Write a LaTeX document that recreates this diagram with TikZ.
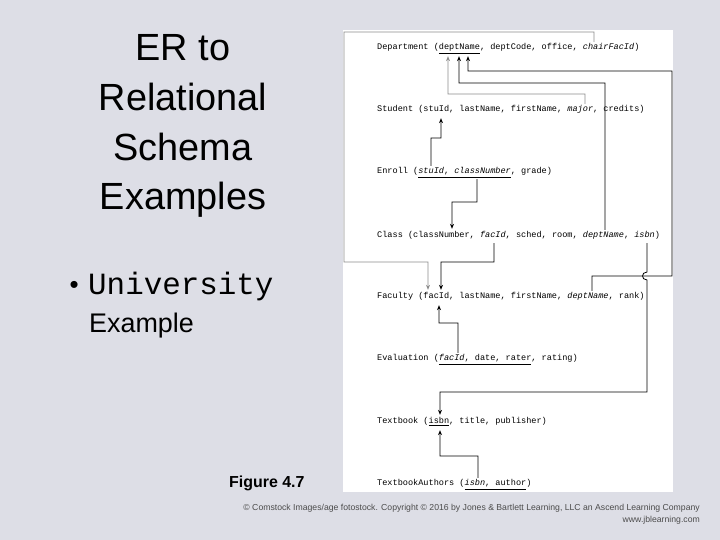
\documentclass[tikz,border=0pt]{standalone}
\usepackage{fontspec}
\setmainfont{Liberation Sans}
\newfontfamily\mono{Liberation Mono}
\usetikzlibrary{arrows.meta,calc}
\definecolor{bg}{HTML}{DDDEE6}
\begin{document}
\begin{tikzpicture}[x=1bp,y=-1bp,
  rel/.style={anchor=west,inner sep=0pt,font=\mono\fontsize{8.6}{10}\selectfont,text height=6pt,text depth=2pt},
  fk/.style={line width=0.8pt,-{Stealth[length=5pt,width=4pt]}},
  fkg/.style={fk,draw=black!45}]
\fill[bg] (0,0) rectangle (720,540);
\useasboundingbox (0,0) rectangle (720,540);
\fill[white] (343,30) rectangle (673,492);
% title
\node[align=center,font=\fontsize{38}{50}\selectfont] (title) at (183,126) {ER to\\Relational\\Schema\\Examples};
\node[anchor=west,font=\fontsize{26}{30}\selectfont] (bul) at (66,287) {\textbullet};
\node[anchor=west,font=\mono\fontsize{31}{34}\selectfont,inner sep=0pt] (univ) at (88,287) {University};
\node[anchor=west,font=\fontsize{27}{30}\selectfont,inner sep=0pt] (ex) at (89,326) {Example};
\node[anchor=west,font=\bfseries\fontsize{16}{18}\selectfont,inner sep=0pt] (fig) at (229,483) {Figure 4.7};
\node[anchor=east,align=right,font=\fontsize{8.7}{12.5}\selectfont,text=black!70,inner sep=0pt] (copy) at (700,514)
 {\textcopyright{} Comstock Images/age fotostock. Copyright \textcopyright{} 2016 by Jones \& Bartlett Learning, LLC an Ascend Learning Company\\www.jblearning.com};
% relations
\node[rel] (dept) at (377,48) {Department (\underline{deptName}, deptCode, office, \textit{chairFacId})};
\node[rel] (stu) at (377,110) {Student (stuId, lastName, firstName, \textit{major}, credits)};
\node[rel] (enr) at (377,172) {Enroll (\underline{\textit{stuId}, \textit{classNumber}}, grade)};
\node[rel] (cls) at (377,236) {Class (classNumber, \textit{facId}, sched, room, \textit{deptName}, \textit{isbn})};
\node[rel] (fac) at (377,297) {Faculty (facId, lastName, firstName, \textit{deptName}, rank)};
\node[rel] (eva) at (377,359) {Evaluation (\underline{\textit{facId}, date, rater}, rating)};
\node[rel] (tb) at (377,422) {Textbook (\underline{isbn}, title, publisher)};
\node[rel] (tba) at (377,484) {TextbookAuthors (\underline{\textit{isbn}, author})};
% connectors
\draw[fkg] ([xshift=217bp,yshift=2bp]dept.north west) |- (344,32) |- (428,262) -- ([xshift=51bp,yshift=3bp]fac.north west);
\draw[fkg] ([xshift=208bp,yshift=2bp]stu.north west) |- (448,94) -- ([xshift=71bp,yshift=-4bp]dept.south west);
\draw[fk] ([xshift=228bp,yshift=2bp]cls.north west) |- (459,83) -- ([xshift=82bp,yshift=-4bp]dept.south west);
\draw[fk] ([xshift=215bp,yshift=2bp]fac.north west) |- (672,276) |- (468,71) -- ([xshift=91bp,yshift=-4bp]dept.south west);
\draw[fk] ([xshift=54bp,yshift=2bp]enr.north west) |- (441,138) -- ([xshift=64bp,yshift=-4bp]stu.south west);
\draw[fk] ([xshift=100bp,yshift=-3bp]enr.south west) |- (452,202) -- ([xshift=75bp,yshift=3bp]cls.north west);
\draw[fk] ([xshift=117bp,yshift=-3bp]cls.south west) |- (441,262) -- ([xshift=64bp,yshift=3bp]fac.north west);
\draw[fk] ([xshift=270bp,yshift=-3bp]cls.south west) -- (647,272) .. controls (641,272) and (641,280) .. (647,280)
  -- (647,392) -- (440,392) -- ([xshift=63bp,yshift=3bp]tb.north west);
\draw[fk] ([xshift=81bp,yshift=2bp]eva.north west) |- (439,323) -- ([xshift=62bp,yshift=-4bp]fac.south west);
\draw[fk] ([xshift=101bp,yshift=2bp]tba.north west) |- (440,456) -- ([xshift=63bp,yshift=-4bp]tb.south west);
\end{tikzpicture}
\end{document}
